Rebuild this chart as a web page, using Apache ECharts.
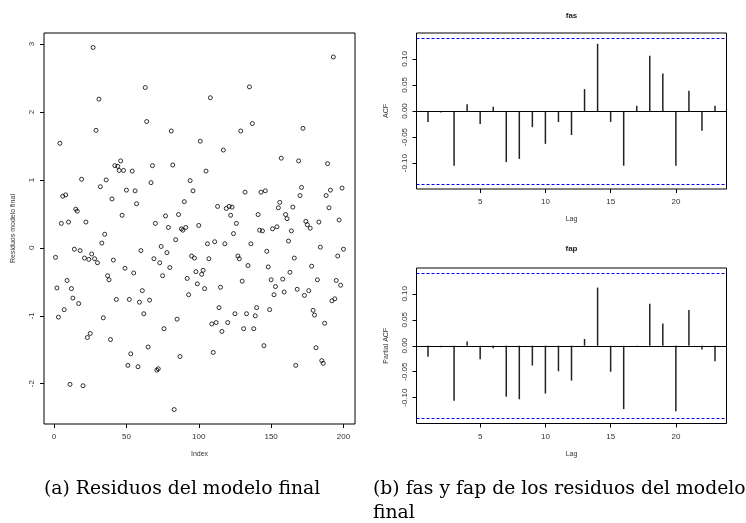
<!DOCTYPE html>
<html>
<head>
<meta charset="utf-8">
<script src="https://cdn.jsdelivr.net/npm/echarts@6/dist/echarts.min.js"></script>
<style>
  html, body { margin: 0; padding: 0; background: #fff; }
  #chart { width: 746px; height: 523px; }
</style>
</head>
<body>
<div id="chart"></div>
<script>
  // residuos del modelo final, indice 1..200
  const residuos = [
    -0.14, -0.59, -1.02, 1.54, 0.36, 0.76, -0.91, 0.78, -0.48, 0.38,
    -2.01, -0.60, -0.74, -0.02, 0.57, 0.54, -0.82, -0.04, 1.01, -2.03,
    -0.15, 0.38, -1.32, -0.17, -1.26, -0.09, 2.95, -0.16, 1.73, -0.22,
    2.19, 0.90, 0.07, -1.03, 0.20, 1.00, -0.41, -0.47, -1.35, 0.72,
    -0.18, 1.21, -0.76, 1.20, 1.14, 1.28, 0.48, 1.14, -0.30, 0.85,
    -1.73, -0.76, -1.56, 1.13, -0.37, 0.84, 0.65, -1.75, -0.80, -0.04,
    -0.63, -0.97, 2.36, 1.86, -1.46, -0.77, 0.96, 1.21, -0.16, 0.36,
    -1.80, -1.78, -0.22, 0.02, -0.41, -1.19, 0.47, -0.07, 0.30, -0.29,
    1.72, 1.22, -2.38, 0.12, -1.05, 0.49, -1.60, 0.28, 0.26, 0.68,
    0.30, -0.45, -0.69, 0.99, -0.12, 0.84, -0.15, -0.35, -0.53, 0.33,
    1.57, -0.39, -0.33, -0.60, 1.13, 0.06, -0.16, 2.21, -1.12, -1.54,
    0.09, -1.10, 0.61, -0.88, -0.58, -1.23, 1.44, 0.06, 0.58, -1.10,
    0.61, 0.48, 0.60, 0.21, -0.97, 0.36, -0.12, -0.16, 1.72, -0.49,
    -1.19, 0.82, -0.97, -0.26, 2.37, 0.06, 1.83, -1.19, -1.00, -0.88,
    0.49, 0.26, 0.82, 0.25, -1.44, 0.84, -0.05, -0.28, -0.91, -0.47,
    0.28, -0.69, -0.57, 0.31, 0.59, 0.67, 1.32, -0.46, -0.65, 0.49,
    0.43, 0.10, -0.36, 0.25, 0.60, -0.15, -1.73, -0.61, 1.28, 0.77,
    0.89, 1.76, -0.70, 0.39, 0.34, -0.63, 0.29, -0.27, -0.92, -0.99,
    -1.47, -0.47, 0.38, 0.01, -1.66, -1.70, -1.11, 0.77, 1.24, 0.59,
    0.85, -0.78, 2.81, -0.75, -0.48, -0.12, 0.41, -0.55, 0.88, -0.02
  ]

  const lags = [1, 2, 3, 4, 5, 6, 7, 8, 9, 10, 11, 12, 13, 14, 15, 16, 17, 18, 19, 20, 21, 22, 23]
  const fas = [
    -0.021, -0.003, -0.105, 0.013, -0.025, 0.008, -0.098, -0.092, -0.031, -0.063,
    -0.021, -0.046, 0.042, 0.129, -0.021, -0.105, 0.010, 0.106, 0.072, -0.105,
    0.039, -0.038, 0.010
  ]
  const fap = [
    -0.021, -0.003, -0.106, 0.008, -0.026, -0.005, -0.098, -0.103, -0.038, -0.092,
    -0.049, -0.067, 0.013, 0.112, -0.050, -0.122, -0.001, 0.081, 0.043, -0.126,
    0.069, -0.007, -0.030
  ]

  const indexTicks = [0, 50, 100, 150, 200]
  const residTicks = [-2, -1, 0, 1, 2, 3]
  const lagTicks = [5, 10, 15, 20]
  const acfTicks = [-0.10, -0.05, 0.00, 0.05, 0.10]

  // banda de confianza 1.96/sqrt(n)
  const ci = 1.96 / Math.sqrt(residuos.length)

  // rango al estilo de R: 4% de margen a cada lado
  function padRange (lo, hi) {
    const d = (hi - lo) * 0.04
    return [lo - d, hi + d]
  }

  const xRes = padRange(1, residuos.length)
  const yRes = padRange(Math.min(...residuos), Math.max(...residuos))
  const xLag = padRange(lags[0], lags[lags.length - 1])
  const yAcf = padRange(-ci, ci)

  const axisFont = 'Liberation Sans'
  const textGrey = '#333'

  function xAxisOf (grid, range, ticks, name, fmt) {
    return {
      type: 'value',
      gridIndex: grid,
      min: range[0],
      max: range[1],
      name: name,
      nameLocation: 'middle',
      nameGap: 27,
      nameTextStyle: { fontFamily: axisFont, fontSize: 7, color: textGrey },
      axisLine: { show: false, onZero: false },
      axisTick: { show: true, length: 4, customValues: ticks, lineStyle: { color: '#000', width: 1 } },
      axisLabel: { customValues: ticks, fontFamily: axisFont, fontSize: 8, color: textGrey, margin: 9, formatter: fmt },
      splitLine: { show: false }
    }
  }

  function yAxisOf (grid, range, ticks, name, fmt) {
    return {
      type: 'value',
      gridIndex: grid,
      min: range[0],
      max: range[1],
      name: name,
      nameLocation: 'middle',
      nameGap: 27,
      nameTextStyle: { fontFamily: axisFont, fontSize: 7, color: textGrey },
      axisLine: { show: false, onZero: false },
      axisTick: { show: true, length: 4, customValues: ticks, lineStyle: { color: '#000', width: 1 } },
      axisLabel: { customValues: ticks, rotate: 90, fontFamily: axisFont, fontSize: 8, color: textGrey, margin: 8, formatter: fmt },
      splitLine: { show: false }
    }
  }

  function limitLines () {
    return {
      symbol: 'none',
      silent: true,
      animation: false,
      label: { show: false },
      data: [
        { yAxis: 0, lineStyle: { color: '#000', width: 1, type: 'solid' } },
        { yAxis: ci, lineStyle: { color: '#0000ff', width: 1, type: [3, 2] } },
        { yAxis: -ci, lineStyle: { color: '#0000ff', width: 1, type: [3, 2] } }
      ]
    }
  }

  const two = v => v.toFixed(2)
  const plain = v => String(v)

  const chart = echarts.init(document.getElementById('chart'))
  chart.setOption({
    animation: false,
    backgroundColor: '#fff',
    grid: [
      { left: 44, top: 33, width: 311, height: 391, show: true, borderColor: '#000', borderWidth: 1, outerBoundsMode: 'none' },
      { left: 416.5, top: 33, width: 310, height: 156, show: true, borderColor: '#000', borderWidth: 1, outerBoundsMode: 'none' },
      { left: 416.5, top: 268, width: 310, height: 155.5, show: true, borderColor: '#000', borderWidth: 1, outerBoundsMode: 'none' }
    ],
    xAxis: [
      xAxisOf(0, xRes, indexTicks, 'Index', plain),
      xAxisOf(1, xLag, lagTicks, 'Lag', plain),
      xAxisOf(2, xLag, lagTicks, 'Lag', plain)
    ],
    yAxis: [
      yAxisOf(0, yRes, residTicks, 'Residuos modelo final', plain),
      yAxisOf(1, yAcf, acfTicks, 'ACF', two),
      yAxisOf(2, yAcf, acfTicks, 'Partial ACF', two)
    ],
    series: [
      {
        type: 'scatter',
        xAxisIndex: 0,
        yAxisIndex: 0,
        symbol: 'circle',
        symbolSize: 4,
        itemStyle: { color: 'rgba(0,0,0,0)', borderColor: '#000', borderWidth: 1 },
        data: residuos.map((v, i) => [i + 1, v])
      },
      {
        type: 'bar',
        xAxisIndex: 1,
        yAxisIndex: 1,
        barWidth: 1.5,
        itemStyle: { color: '#222' },
        data: lags.map((l, i) => [l, fas[i]]),
        markLine: limitLines()
      },
      {
        type: 'bar',
        xAxisIndex: 2,
        yAxisIndex: 2,
        barWidth: 1.5,
        itemStyle: { color: '#222' },
        data: lags.map((l, i) => [l, fap[i]]),
        markLine: limitLines()
      }
    ],
    graphic: [
      { type: 'text', x: 571.5, y: 16, style: { text: 'fas', font: 'bold 8px "Liberation Sans"', fill: '#222', align: 'center', verticalAlign: 'middle' } },
      { type: 'text', x: 571.5, y: 249, style: { text: 'fap', font: 'bold 8px "Liberation Sans"', fill: '#222', align: 'center', verticalAlign: 'middle' } },
      { type: 'text', x: 44, y: 489, style: { text: '(a) Residuos del modelo final', font: '18.8px "DejaVu Serif"', fill: '#000', align: 'left', verticalAlign: 'middle' } },
      { type: 'text', x: 373, y: 489, style: { text: '(b) fas y fap de los residuos del modelo', font: '18.8px "DejaVu Serif"', fill: '#000', align: 'left', verticalAlign: 'middle' } },
      { type: 'text', x: 373, y: 513, style: { text: 'final', font: '18.8px "DejaVu Serif"', fill: '#000', align: 'left', verticalAlign: 'middle' } }
    ]
  })
</script>
</body>
</html>
